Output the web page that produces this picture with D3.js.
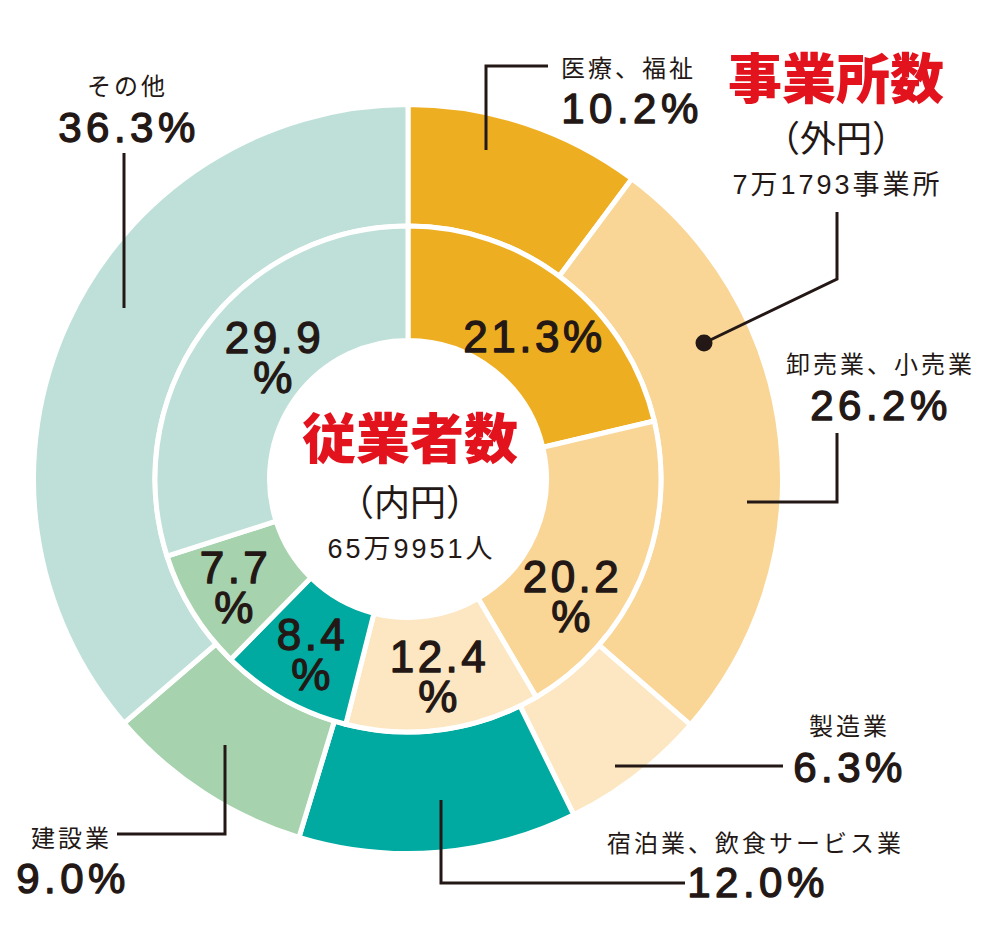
<!DOCTYPE html>
<html><head><meta charset="utf-8">
<script src="https://cdn.jsdelivr.net/npm/d3@7"></script>
<style>
html,body{margin:0;padding:0;background:#fff;}
svg{display:block;}
</style></head>
<body>
<svg id="chart" width="1000" height="943"></svg>
<script>
// ---- data ----
const categories = ["医療、福祉","卸売業、小売業","製造業","宿泊業、飲食サービス業","建設業","その他"];
const outerValues = [10.2, 26.2, 6.3, 12.0, 9.0, 36.3];   // 事業所数（外円）
const innerValues = [21.3, 20.2, 12.4, 8.4, 7.7, 29.9];   // 従業者数（内円）
const outerLabels = ["10.2%","26.2%","6.3%","12.0%","9.0%","36.3%"];
const innerLabels = ["21.3%","20.2\n%","12.4\n%","8.4\n%","7.7\n%","29.9\n%"];
const colors = ["#EEAE22","#F9D596","#FCE7C2","#00AAA0","#A6D2AD","#BEE0D8"];
const outerTitle = ["事業所数","（外円）","7万1793事業所"];
const innerTitle = ["従業者数","（内円）","65万9951人"];

// ---- layout ----
const cx = 408, cy = 479;
const svg = d3.select("#chart");
const g = svg.append("g").attr("transform", `translate(${cx},${cy})`);
const pie = d3.pie().sort(null).value(d => d);
const outerArc = d3.arc().innerRadius(253).outerRadius(374.5);
const innerArc = d3.arc().innerRadius(138.5).outerRadius(253);
const ink = "#231815";
const numFont = "'Liberation Sans', Arial, sans-serif";
const jpFont = "'Noto Sans CJK JP', sans-serif";

g.selectAll("path.outer").data(pie(outerValues)).join("path")
  .attr("class","outer").attr("d", outerArc)
  .attr("fill", (d,i) => colors[i]).attr("stroke","#fff").attr("stroke-width",5);
g.selectAll("path.inner").data(pie(innerValues)).join("path")
  .attr("class","inner").attr("d", innerArc)
  .attr("fill", (d,i) => colors[i]).attr("stroke","#fff").attr("stroke-width",5);

// inner labels (positions of label blocks)
const innerPos = [[533,352],[571,592],[438,672],[311,650],[234,583],[273,353]];
innerLabels.forEach((lab,i) => {
  const lines = lab.split("\n");
  const t = svg.append("text").attr("text-anchor","middle")
    .attr("font-family", numFont).attr("font-weight","normal")
    .attr("stroke", ink).attr("stroke-width",1.3).attr("stroke-linejoin","round")
    .attr("font-size",44).attr("letter-spacing",3.5).attr("fill", ink);
  lines.forEach((ln,j) => {
    t.append("tspan").attr("x", innerPos[i][0] + 1.5).attr("y", innerPos[i][1] + j*40).text(ln);
  });
});

// outer labels: [nameX, nameY, pctX, pctY]
const outerPos = [
  [627, 77, 630, 123],
  [879, 373, 879, 420],
  [848, 735, 848, 782],
  [754, 852, 756, 897],
  [70, 847, 71, 893],
  [126, 95, 127, 142]
];
categories.forEach((c,i) => {
  svg.append("text").attr("x", outerPos[i][0] + 1.5).attr("y", outerPos[i][1])
    .attr("text-anchor","middle").attr("font-family", jpFont)
    .attr("font-size",24).attr("letter-spacing",3).attr("fill", ink).text(c);
  svg.append("text").attr("x", outerPos[i][2] + 2).attr("y", outerPos[i][3])
    .attr("text-anchor","middle").attr("font-family", numFont).attr("font-weight","normal")
    .attr("stroke", ink).attr("stroke-width",1.3).attr("stroke-linejoin","round")
    .attr("font-size",42).attr("letter-spacing",4.5).attr("fill", ink).text(outerLabels[i]);
});

// leader lines
const leaders = [
  [[486,150],[486,66],[548,66]],
  [[747,502],[837,502],[837,433]],
  [[615,766],[783,766]],
  [[441,800],[441,883],[685,883]],
  [[225,745],[225,834],[117,834]],
  [[124,308],[124,153]],
  [[704,343],[837,279],[837,212]]
];
const line = d3.line();
svg.selectAll("path.leader").data(leaders).join("path")
  .attr("class","leader").attr("d", line).attr("fill","none")
  .attr("stroke", ink).attr("stroke-width",3);
svg.append("circle").attr("cx",704).attr("cy",343).attr("r",8.5).attr("fill", ink);

// titles
function title(arr, x, ys) {
  svg.append("text").attr("x", x).attr("y", ys[0]).attr("text-anchor","middle")
    .attr("font-family", jpFont).attr("font-weight",900).attr("font-size",54)
    .attr("fill","#E3131E").text(arr[0]);
  svg.append("text").attr("x", x).attr("y", ys[1]).attr("text-anchor","middle")
    .attr("font-family", jpFont).attr("font-size",36)
    .attr("fill", ink).text(arr[1]);
  svg.append("text").attr("x", x + 1.5).attr("y", ys[2]).attr("text-anchor","middle")
    .attr("font-family", "'Liberation Sans','Noto Sans CJK JP',sans-serif").attr("font-size",27).attr("letter-spacing",3)
    .attr("fill", ink).text(arr[2]);
}
title(outerTitle, 836, [99, 152, 194]);
title(innerTitle, 410, [459, 516, 558]);
</script>
</body></html>
